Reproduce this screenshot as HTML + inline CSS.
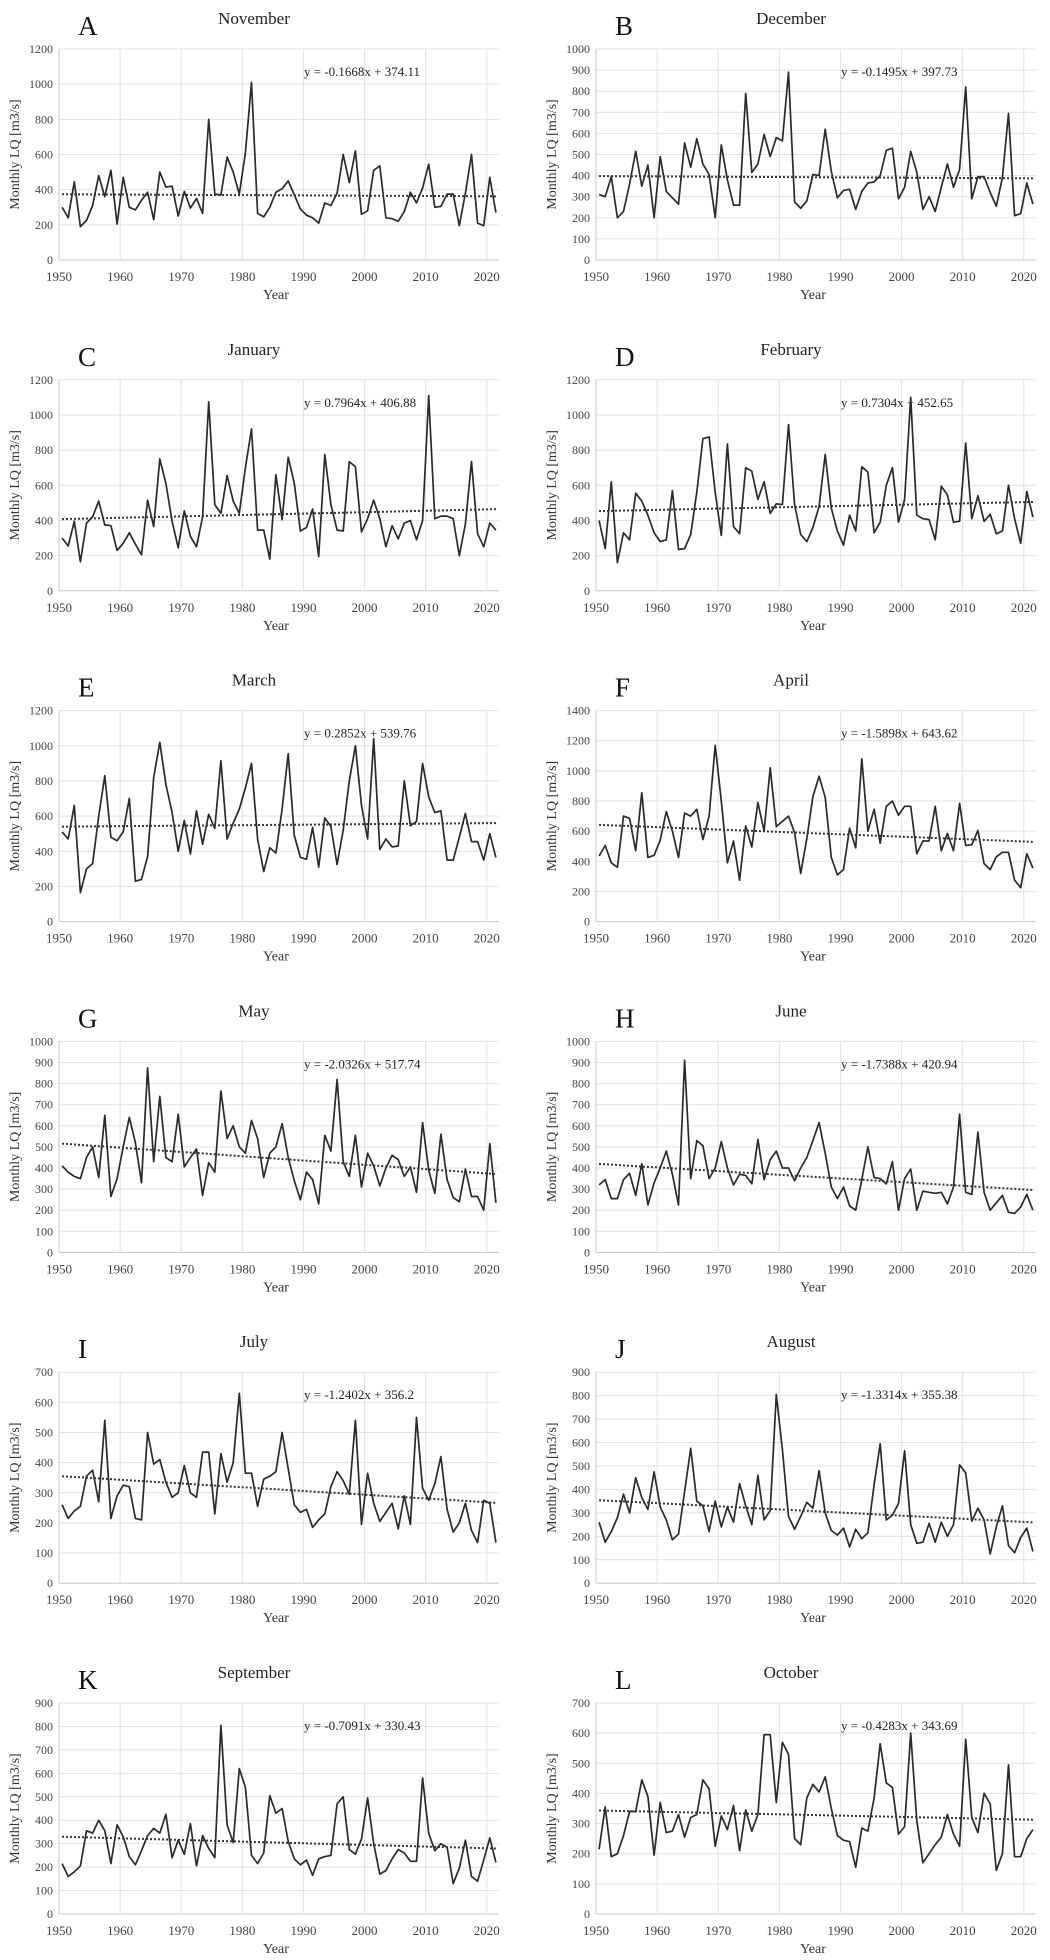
<!DOCTYPE html>
<html><head><meta charset="utf-8">
<style>
html,body{margin:0;padding:0;background:#fff;}
svg{display:block;}
text{font-family:"Liberation Serif",serif;}
</style></head>
<body>
<svg id="fig" width="1050" height="1960" viewBox="0 0 1050 1960" xmlns="http://www.w3.org/2000/svg"></svg>
<script>
const years = [];
for (let y = 1951; y <= 2022; y++) years.push(y);
const xTicks = [1950,1960,1970,1980,1990,2000,2010,2020];
const panelLetters = ["A","B","C","D","E","F","G","H","I","J","K","L"];
const panelMonths = ["November","December","January","February","March","April","May","June","July","August","September","October"];
const yMaxes = [1200,1000,1200,1200,1200,1400,1000,1000,700,900,900,700];
const ySteps = [200,100,200,200,200,200,100,100,100,100,100,100];
const trendSlopes = [-0.1668,-0.1495,0.7964,0.7304,0.2852,-1.5898,-2.0326,-1.7388,-1.2402,-1.3314,-0.7091,-0.4283];
const trendIntercepts = [374.11,397.73,406.88,452.65,539.76,643.62,517.74,420.94,356.2,355.38,330.43,343.69];
const trendLabels = ["y = -0.1668x + 374.11","y = -0.1495x + 397.73","y = 0.7964x + 406.88","y = 0.7304x + 452.65","y = 0.2852x + 539.76","y = -1.5898x + 643.62","y = -2.0326x + 517.74","y = -1.7388x + 420.94","y = -1.2402x + 356.2","y = -1.3314x + 355.38","y = -0.7091x + 330.43","y = -0.4283x + 343.69"];

const novData = [300,240,445,190,225,310,480,360,510,205,470,300,285,340,385,230,500,415,420,250,390,295,350,265,800,375,370,585,500,375,610,1010,265,245,300,385,405,450,370,290,255,240,210,325,310,380,600,440,620,260,280,510,535,240,235,220,275,385,325,410,545,300,305,375,375,195,380,600,210,195,470,270];
const decData = [310,300,395,200,230,360,515,350,450,200,490,325,295,265,555,440,575,455,405,200,545,380,260,260,790,415,455,595,490,580,565,890,275,245,280,405,400,620,420,295,330,335,240,325,365,370,400,520,530,290,345,515,415,240,300,230,345,455,345,430,820,290,395,395,320,255,390,695,210,220,365,265];
const janData = [300,255,395,165,385,420,510,375,370,230,270,330,265,205,515,365,750,610,395,245,455,310,250,420,1075,490,440,655,510,440,700,920,345,345,180,660,405,760,610,340,360,465,195,775,490,345,340,735,705,335,410,515,410,250,370,295,385,400,290,400,1110,410,425,425,410,200,380,735,325,250,385,345];
const febData = [400,240,620,160,330,290,555,510,430,330,280,290,570,235,240,320,560,865,875,560,315,835,365,325,700,680,520,620,440,495,490,945,490,320,280,360,480,775,470,340,260,430,340,705,675,330,390,600,700,390,520,1100,430,410,405,290,595,545,390,395,840,410,540,395,435,325,340,600,410,270,565,420];
const marData = [510,470,660,165,300,330,600,830,480,460,510,700,230,240,370,820,1020,780,620,400,575,385,630,440,610,530,915,470,560,640,760,900,470,285,420,390,640,955,490,365,355,535,310,590,540,325,520,800,1000,660,470,1040,410,470,425,430,800,545,570,900,710,620,630,350,350,480,615,455,455,350,500,365];
const aprData = [435,505,390,360,700,685,470,855,425,440,540,730,600,425,720,700,745,545,700,1170,800,390,535,275,635,495,790,600,1020,630,665,700,590,320,550,830,965,825,425,310,345,620,490,1080,600,745,520,765,800,705,765,765,450,535,535,765,470,585,470,785,505,510,605,385,345,430,460,460,275,225,450,355];
const mayData = [410,380,360,350,450,500,355,650,265,350,500,640,520,330,875,430,740,450,430,655,405,450,490,270,425,380,765,540,600,500,470,625,540,355,470,500,610,450,340,250,380,345,230,555,480,820,430,360,555,310,470,410,315,400,460,440,360,405,285,615,390,280,560,345,260,240,395,265,265,200,515,235];
const junData = [320,345,255,255,345,375,270,420,225,330,400,480,370,225,910,350,530,505,350,400,525,400,320,370,365,325,535,345,440,480,400,400,340,400,450,530,615,470,310,255,310,220,200,345,500,355,350,325,430,200,350,395,200,290,285,280,285,230,310,655,285,275,570,285,200,235,270,190,185,215,275,200];
const julData = [260,215,240,255,355,375,270,540,215,290,325,320,215,210,500,395,410,335,285,300,390,300,285,435,435,230,430,335,400,630,365,365,255,345,355,370,500,380,260,235,245,185,210,230,320,370,340,295,540,195,365,265,205,235,265,180,290,195,550,315,275,330,420,245,170,200,265,175,135,275,265,135];
const augData = [260,175,220,280,380,300,450,365,315,475,325,270,185,210,390,575,350,330,220,350,240,325,260,425,330,250,460,270,310,805,570,285,230,285,345,320,480,300,225,205,235,155,230,190,215,420,595,270,290,340,565,250,170,175,255,175,260,200,250,505,470,265,320,270,125,240,330,160,130,195,235,135];
const sepData = [215,160,180,205,355,345,400,355,215,380,330,245,210,270,335,365,345,425,240,315,255,385,205,335,280,240,805,380,305,620,540,250,215,260,505,430,450,310,235,210,230,165,235,245,250,470,500,275,255,320,495,300,170,185,235,275,260,225,225,580,345,270,300,285,130,195,315,160,140,230,325,220];
const octData = [215,355,190,200,260,340,340,445,390,195,370,270,275,330,255,320,330,445,415,225,325,280,360,210,345,275,330,595,595,370,570,530,250,230,385,430,405,455,350,260,245,240,155,285,275,385,565,435,420,265,290,600,310,170,200,230,255,330,265,225,580,320,270,400,365,145,200,495,190,190,250,280];

const panelData = [novData,decData,janData,febData,marData,aprData,mayData,junData,julData,augData,sepData,octData];

const svg = document.getElementById('fig');
const NS = 'http://www.w3.org/2000/svg';
function mk(tag, attrs, parent) {
  const el = document.createElementNS(NS, tag);
  for (const k in attrs) el.setAttribute(k, attrs[k]);
  parent.appendChild(el);
  return el;
}

const PLOT_W = 440, PLOT_H = 211;
const colLeft = [59, 596];
const rowTop0 = 49, rowPitch = 330.8;

for (let p = 0; p < 12; p++) {
  const col = p % 2, row = Math.floor(p / 2);
  const L = colLeft[col], T = rowTop0 + row * rowPitch, B = T + PLOT_H, R = L + PLOT_W;
  const yMax = yMaxes[p], step = ySteps[p];
  const xScale = yr => L + (yr - 1950) / 72 * PLOT_W;
  const yScale = v => B - v / yMax * PLOT_H;
  const key = panelMonths[p].toLowerCase();

  const g = mk('g', {}, svg);
  
  

  // horizontal gridlines + y ticks
  for (let v = 0; v <= yMax + 0.001; v += step) {
    const y = yScale(v);
    const gl = mk('line', {x1: L, x2: R, y1: y, y2: y, stroke: v === 0 ? '#c8c8c8' : '#e2e2e2', 'stroke-width': 1}, g);
    
    
    const t = mk('text', {x: L - 6, y: y + 4, 'text-anchor': 'end', 'font-size': 12, fill: '#444'}, g);
    t.textContent = v;
    
    
  }
  // vertical gridlines + x ticks
  for (const yr of xTicks) {
    const x = xScale(yr);
    const vl = mk('line', {x1: x, x2: x, y1: T, y2: B, stroke: yr === 1950 ? '#c8c8c8' : '#e2e2e2', 'stroke-width': 1}, g);
    
    
    const t = mk('text', {x: x, y: B + 21, 'text-anchor': 'middle', 'font-size': 13, fill: '#444'}, g);
    t.textContent = yr;
    
    
  }
  // series line
  const data = panelData[p];
  const pts = data.map((v, i) => xScale(1950.5 + i).toFixed(1) + ',' + yScale(v).toFixed(1)).join(' ');
  const pl = mk('polyline', {points: pts, fill: 'none', stroke: '#2a2a2a', 'stroke-width': 1.7, 'stroke-linejoin': 'round'}, g);
  
  
  // trend line
  const n = data.length;
  const tl = mk('line', {x1: xScale(1950.5), y1: yScale(trendSlopes[p] * 1 + trendIntercepts[p]), x2: xScale(1950.5 + n - 1), y2: yScale(trendSlopes[p] * n + trendIntercepts[p]), stroke: '#333', 'stroke-width': 2, 'stroke-dasharray': '2,2'}, g);
  
  
  // equation
  const eq = mk('text', {x: L + 245, y: T + 27, 'font-size': 13, fill: '#222'}, g);
  eq.textContent = trendLabels[p];
  
  
  // title
  const ti = mk('text', {x: L + 195, y: T - 25, 'text-anchor': 'middle', 'font-size': 17, fill: '#222'}, g);
  ti.textContent = panelMonths[p];
  
  
  // letter
  const le = mk('text', {x: L + 19, y: T - 14, 'font-size': 27, fill: '#111'}, g);
  le.textContent = panelLetters[p];
  
  
  // y axis title
  const yt = mk('text', {x: 0, y: 0, 'text-anchor': 'middle', 'font-size': 14, fill: '#333', transform: 'translate(' + (L - 40) + ',' + (T + PLOT_H / 2) + ') rotate(-90)'}, g);
  yt.textContent = 'Monthly LQ [m3/s]';
  
  
  // x axis title
  const xt = mk('text', {x: L + PLOT_W / 2 - 3, y: B + 39, 'text-anchor': 'middle', 'font-size': 14, fill: '#333'}, g);
  xt.textContent = 'Year';
  
  
}
</script>
</body></html>
